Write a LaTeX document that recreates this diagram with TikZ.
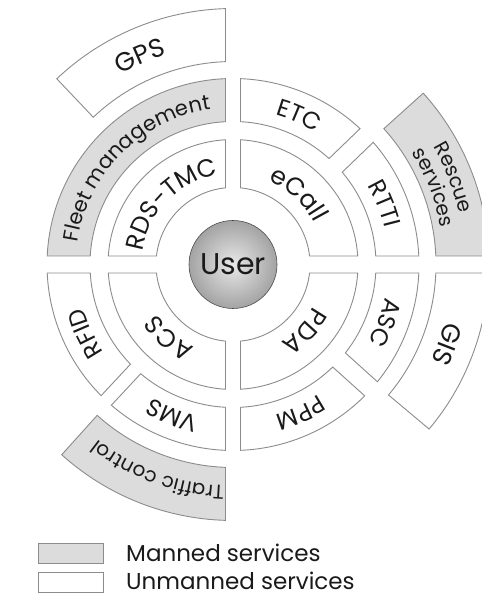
\documentclass[tikz,border=0pt]{standalone}
\usepackage{fontspec}
\setmainfont{Poppins}
\usetikzlibrary{decorations.text,calc}
\definecolor{segline}{HTML}{8C8C8C}
\definecolor{segfill}{HTML}{DCDCDC}
\definecolor{txt}{HTML}{1A1A1A}
\tikzset{
  unmanned/.style={draw=segline, line width=0.9pt, fill=white},
  manned/.style={draw=segline, line width=0.9pt, fill=segfill},
  legendbox/.style={draw=segline, line width=0.9pt, minimum width=65pt, minimum height=20pt, inner sep=0pt},
  legendtext/.style={anchor=base west, inner sep=0pt, text=txt, font=\fontsize{23pt}{23pt}\selectfont},
}
% #1 inner radius, #2 outer radius, #3 start angle, #4 start offset, #5 end angle, #6 end offset, #7 style
\newcommand\ringseg[7]{%
  \pgfmathsetmacro\rsAo{#3+asin(#4/#2)}%
  \pgfmathsetmacro\rsBo{#5-asin(#6/#2)}%
  \pgfmathsetmacro\rsAi{#3+asin(#4/#1)}%
  \pgfmathsetmacro\rsBi{#5-asin(#6/#1)}%
  \draw[#7] ([shift={(\rsAo:#2)}]C) arc[start angle=\rsAo, end angle=\rsBo, radius=#2]
     -- ([shift={(\rsBi:#1)}]C) arc[start angle=\rsBi, end angle=\rsAi, radius=#1] -- cycle;}
% #1 baseline radius, #2 centre angle, #3 font size, #4 text
\newcommand\ringlabel[4]{%
  \pgfmathsetmacro\rlA{#2+70}%
  \pgfmathsetmacro\rlB{#2-70}%
  \path[decorate, decoration={text along path, text align=center, text color=txt,
     text={|\fontsize{#3pt}{#3pt}\selectfont|#4}}]
     ([shift={(\rlA:#1)}]C) arc[start angle=\rlA, end angle=\rlB, radius=#1];}
\begin{document}
\begin{tikzpicture}[x=1pt,y=1pt]
\useasboundingbox (0,0) rectangle (481,593);
\fill[white] (0,0) rectangle (481,593);
\coordinate (C) at (233,328.5);
% ring 1
\ringseg{77}{125}{0}{8.5}{90}{7.5}{unmanned}
\ringseg{77}{125}{90}{7.5}{180}{8.5}{unmanned}
\ringseg{77}{125}{180}{8.5}{270}{7.5}{unmanned}
\ringseg{77}{125}{270}{7.5}{360}{8.5}{unmanned}
% ring 2
\ringseg{143}{186}{90}{7.5}{180}{8.5}{manned}
\ringseg{143}{186}{44}{9.5}{90}{7.5}{unmanned}
\ringseg{143}{186}{0}{8.5}{44}{9.5}{unmanned}
\ringseg{143}{186}{-42}{9.5}{0}{8.5}{unmanned}
\ringseg{143}{186}{-90}{7.5}{-42}{9.5}{unmanned}
\ringseg{143}{186}{227}{7}{270}{7.5}{unmanned}
\ringseg{143}{186}{180}{8.5}{227}{7}{unmanned}
% ring 3
\ringseg{203}{256}{90}{7.5}{133.5}{0}{unmanned}
\ringseg{203}{256}{0}{8.5}{42}{0}{manned}
\ringseg{203}{256}{-40}{0}{0}{8.5}{unmanned}
\ringseg{203}{256}{228}{0}{270}{7.5}{manned}
% labels ring 1
\ringlabel{91}{47}{25}{eCall}
\ringlabel{91}{135.5}{25}{RDS-TMC}
\ringlabel{91}{229}{25}{ACS}
\ringlabel{91}{-43}{25}{PDA}
% labels ring 2
\ringlabel{156.5}{135}{21}{Fleet management}
\ringlabel{156}{66}{24}{ETC}
\ringlabel{156}{22}{24}{RTTI}
\ringlabel{156}{-21}{24}{ASC}
\ringlabel{156}{-65.5}{24}{PPM}
\ringlabel{156}{-112}{24}{VMS}
\ringlabel{156}{205}{24}{RFID}
% labels ring 3
\ringlabel{220}{114}{26}{GPS}
\ringlabel{220}{-20.5}{26}{GIS}
\ringlabel{221.5}{250}{20}{Traffic control}
\ringlabel{232}{21.5}{20}{Rescue}
\ringlabel{211}{21}{20}{services}
% user
\node[circle, minimum size=88pt, inner sep=0pt, draw=black!70, line width=0.6pt,
      shading=radial, inner color=gray!18, outer color=gray!72, text=txt,
      font=\fontsize{30pt}{30pt}\selectfont] (user) at (C) {User};
% legend
\node[legendbox, fill=segfill] (lgm) at (70.5,40) {};
\node[legendbox, fill=white] (lgu) at (70.5,11) {};
\node[legendtext] (lgmt) at (126,31) {Manned services};
\node[legendtext] (lgut) at (126,4) {Unmanned services};
\end{tikzpicture}
\end{document}
